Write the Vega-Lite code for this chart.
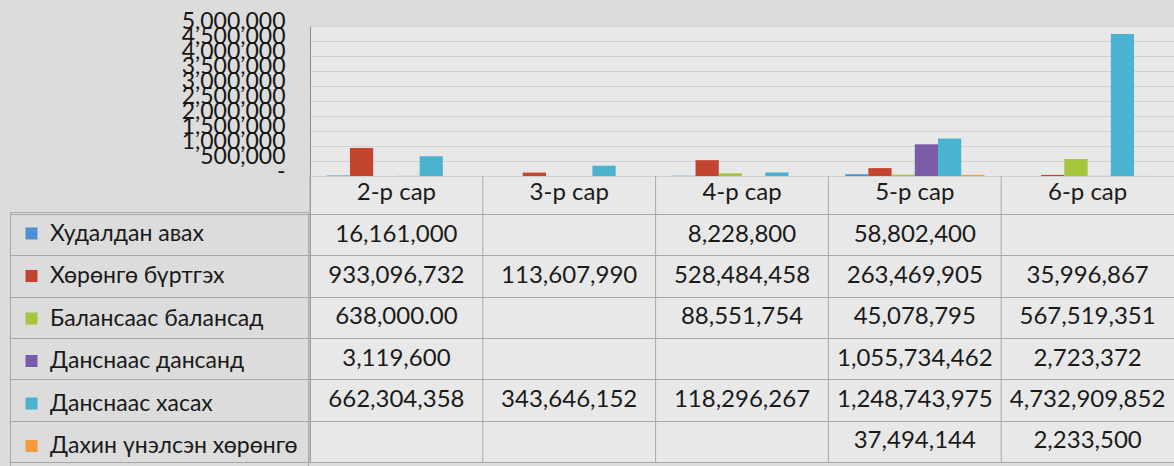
{
  "$schema": "https://vega.github.io/schema/vega-lite/v6.json",
  "width": 864,
  "height": 436,
  "autosize": {"type": "none"},
  "padding": {"left": 310, "top": 26, "right": 0, "bottom": 4},
  "background": "#dcdcdc",
  "config": {
    "font": "Lato",
    "view": {"fill": "#e8e8e8", "stroke": null}
  },
  "datasets": {
    "cells": [
      {"month": "2-р сар", "series": "Худалдан авах", "row": 1, "value": 16161000, "txt": "16,161,000"},
      {"month": "4-р сар", "series": "Худалдан авах", "row": 1, "value": 8228800, "txt": "8,228,800"},
      {"month": "5-р сар", "series": "Худалдан авах", "row": 1, "value": 58802400, "txt": "58,802,400"},
      {"month": "2-р сар", "series": "Хөрөнгө бүртгэх", "row": 2, "value": 933096732, "txt": "933,096,732"},
      {"month": "3-р сар", "series": "Хөрөнгө бүртгэх", "row": 2, "value": 113607990, "txt": "113,607,990"},
      {"month": "4-р сар", "series": "Хөрөнгө бүртгэх", "row": 2, "value": 528484458, "txt": "528,484,458"},
      {"month": "5-р сар", "series": "Хөрөнгө бүртгэх", "row": 2, "value": 263469905, "txt": "263,469,905"},
      {"month": "6-р сар", "series": "Хөрөнгө бүртгэх", "row": 2, "value": 35996867, "txt": "35,996,867"},
      {"month": "2-р сар", "series": "Балансаас балансад", "row": 3, "value": 638000, "txt": "638,000.00"},
      {"month": "4-р сар", "series": "Балансаас балансад", "row": 3, "value": 88551754, "txt": "88,551,754"},
      {"month": "5-р сар", "series": "Балансаас балансад", "row": 3, "value": 45078795, "txt": "45,078,795"},
      {"month": "6-р сар", "series": "Балансаас балансад", "row": 3, "value": 567519351, "txt": "567,519,351"},
      {"month": "2-р сар", "series": "Данснаас дансанд", "row": 4, "value": 3119600, "txt": "3,119,600"},
      {"month": "5-р сар", "series": "Данснаас дансанд", "row": 4, "value": 1055734462, "txt": "1,055,734,462"},
      {"month": "6-р сар", "series": "Данснаас дансанд", "row": 4, "value": 2723372, "txt": "2,723,372"},
      {"month": "2-р сар", "series": "Данснаас хасах", "row": 5, "value": 662304358, "txt": "662,304,358"},
      {"month": "3-р сар", "series": "Данснаас хасах", "row": 5, "value": 343646152, "txt": "343,646,152"},
      {"month": "4-р сар", "series": "Данснаас хасах", "row": 5, "value": 118296267, "txt": "118,296,267"},
      {"month": "5-р сар", "series": "Данснаас хасах", "row": 5, "value": 1248743975, "txt": "1,248,743,975"},
      {"month": "6-р сар", "series": "Данснаас хасах", "row": 5, "value": 4732909852, "txt": "4,732,909,852"},
      {"month": "5-р сар", "series": "Дахин үнэлсэн хөрөнгө", "row": 6, "value": 37494144, "txt": "37,494,144"},
      {"month": "6-р сар", "series": "Дахин үнэлсэн хөрөнгө", "row": 6, "value": 2233500, "txt": "2,233,500"}
    ],
    "months": [
      {"month": "2-р сар"},
      {"month": "3-р сар"},
      {"month": "4-р сар"},
      {"month": "5-р сар"},
      {"month": "6-р сар"}
    ]
  },
  "layer": [
    {
      "data": {"name": "cells"},
      "mark": {"type": "bar"},
      "encoding": {
        "x": {
          "field": "month", "type": "nominal",
          "sort": ["2-р сар", "3-р сар", "4-р сар", "5-р сар", "6-р сар"],
          "scale": {"paddingInner": 0, "paddingOuter": 0},
          "axis": null
        },
        "xOffset": {
          "field": "series", "type": "nominal",
          "sort": ["Худалдан авах", "Хөрөнгө бүртгэх", "Балансаас балансад", "Данснаас дансанд", "Данснаас хасах", "Дахин үнэлсэн хөрөнгө"],
          "scale": {"paddingInner": 0, "paddingOuter": 0.72}
        },
        "y": {
          "field": "value", "type": "quantitative", "stack": null,
          "scale": {"domain": [-9533333333, 5000000000], "nice": false},
          "axis": {
            "orient": "left",
            "title": null,
            "values": [0, 500000000, 1000000000, 1500000000, 2000000000, 2500000000, 3000000000, 3500000000, 4000000000, 4500000000, 5000000000],
            "labelExpr": "datum.value == 0 ? '-' : format(datum.value / 1000, ',')",
            "labelFontSize": 23,
            "labelColor": "#161616",
            "labelPadding": 25,
            "labelOffset": -5,
            "labelOverlap": false,
            "labelBound": false,
            "labelFlush": false,
            "ticks": false,
            "domain": true,
            "domainColor": "#8c8c8c",
            "grid": true,
            "gridColor": "#d0d0d0"
          }
        },
        "color": {
          "field": "series", "type": "nominal",
          "scale": {
            "domain": ["Худалдан авах", "Хөрөнгө бүртгэх", "Балансаас балансад", "Данснаас дансанд", "Данснаас хасах", "Дахин үнэлсэн хөрөнгө"],
            "range": ["#4a90d2", "#c4452f", "#a6c43c", "#7b5aa8", "#4bb2d0", "#f39a3c"]
          },
          "legend": {
            "orient": "none",
            "legendX": -300,
            "legendY": 186,
            "title": null,
            "symbolType": "square",
            "symbolSize": 144,
            "symbolStrokeWidth": 0,
            "symbolOpacity": 1,
            "labelFontSize": 23,
            "labelColor": "#1a1a1a",
            "labelOffset": 7,
            "labelLimit": 400,
            "rowPadding": 18.5,
            "padding": 10,
            "strokeColor": "#a8a8a8"
          }
        }
      }
    },
    {
      "layer": [
        {
          "data": {"name": "months"},
          "mark": {"type": "rule", "color": "#a8a8a8", "strokeWidth": 1},
          "encoding": {
            "x": {"field": "month", "type": "nominal", "bandPosition": 0, "sort": ["2-р сар", "3-р сар", "4-р сар", "5-р сар", "6-р сар"], "axis": null},
            "y": {"datum": -0.42, "type": "quantitative", "scale": {"domain": [-4.0484, 6.5], "nice": false, "zero": false, "reverse": true},
              "axis": {
                "orient": "left",
                "title": null,
                "values": [0.5, 1.5, 2.5, 3.5, 4.5, 5.5, 6.5],
                "labels": false,
                "domain": false,
                "grid": true,
                "gridColor": "#a8a8a8",
                "ticks": true,
                "tickSize": 300,
                "tickColor": "#a8a8a8"
              }
            },
            "y2": {"datum": 6.5}
          }
        },
        {
          "data": {"name": "months"},
          "mark": {"type": "text", "fontSize": 24, "color": "#1a1a1a", "align": "center", "baseline": "middle"},
          "encoding": {
            "x": {"field": "month", "type": "nominal", "sort": ["2-р сар", "3-р сар", "4-р сар", "5-р сар", "6-р сар"], "axis": null},
            "y": {"datum": 0, "type": "quantitative"},
            "text": {"field": "month"}
          }
        },
        {
          "data": {"name": "cells"},
          "mark": {"type": "text", "fontSize": 24, "color": "#1a1a1a", "align": "center", "baseline": "middle"},
          "encoding": {
            "x": {"field": "month", "type": "nominal", "sort": ["2-р сар", "3-р сар", "4-р сар", "5-р сар", "6-р сар"], "axis": null},
            "y": {"field": "row", "type": "quantitative"},
            "text": {"field": "txt"}
          }
        }
      ]
    }
  ],
  "resolve": {"scale": {"y": "independent"}, "axis": {"y": "independent"}}
}
